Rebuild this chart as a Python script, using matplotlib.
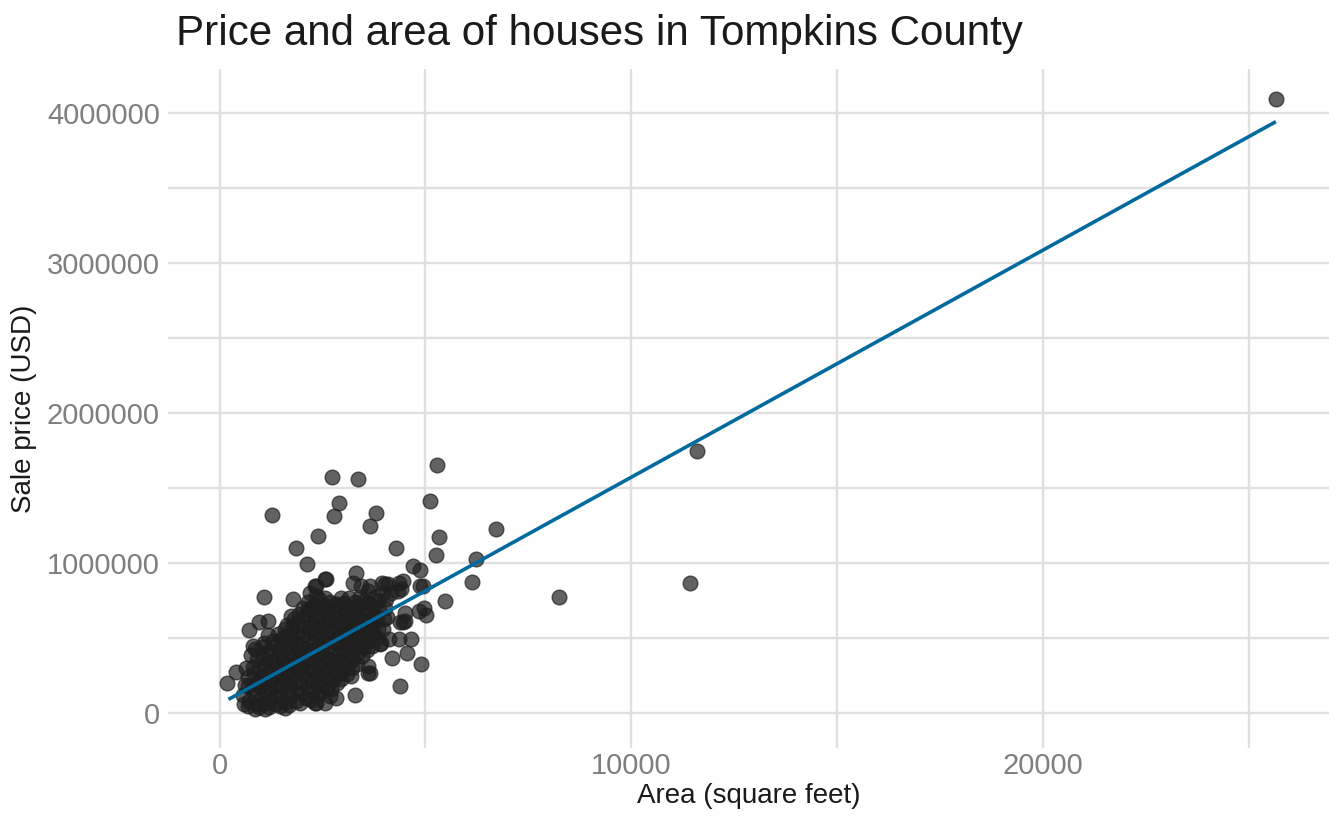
import matplotlib
matplotlib.use("Agg")
import matplotlib.pyplot as plt
from matplotlib.ticker import FixedLocator, FuncFormatter

# ---------------- data ----------------
# dense cluster of houses: (area in sq ft, sale price in thousands USD)
core_points = [
    (560, 120), (600, 60), (620, 190), (650, 300),
    (720, 85), (780, 160), (690, 240), (820, 310), (760, 390), (880, 60),
    (850, 130), (900, 210), (830, 270), (910, 360), (870, 430),
    (960, 45), (1010, 95), (980, 175), (1040, 235), (990, 300), (1060, 370),
    (1020, 440), (1100, 70), (1130, 140), (1080, 205), (1150, 265), (1110, 330),
    (1140, 405), (1090, 470), (1170, 520),
    (1210, 40), (1250, 105), (1230, 170), (1280, 230), (1220, 290), (1300, 350),
    (1260, 415), (1310, 480), (1350, 60), (1380, 125), (1330, 195), (1400, 255),
    (1370, 320), (1420, 385), (1360, 450), (1410, 530),
    (1460, 50), (1490, 110), (1470, 180), (1530, 240), (1500, 305), (1550, 365),
    (1480, 430), (1540, 500), (1590, 560), (1600, 75), (1630, 145), (1580, 210),
    (1650, 275), (1610, 335), (1660, 400), (1620, 465), (1680, 525), (1650, 590),
    (1700, 55), (1740, 120), (1720, 190), (1780, 250), (1750, 315), (1800, 380),
    (1730, 445), (1790, 505), (1760, 570), (1820, 630), (1850, 85), (1880, 150),
    (1840, 215), (1900, 285), (1870, 345), (1920, 410), (1860, 470), (1910, 540),
    (1890, 600), (1940, 660),
    (1960, 70), (2000, 135), (1980, 200), (2040, 265), (2010, 325), (2060, 390),
    (1990, 455), (2050, 520), (2020, 585), (2080, 650), (2030, 705), (2100, 100),
    (2140, 170), (2110, 235), (2160, 300), (2120, 360), (2170, 425), (2130, 490),
    (2180, 555), (2150, 620), (2190, 690), (2140, 745),
    (2220, 90), (2260, 150), (2240, 215), (2290, 280), (2250, 340), (2310, 405),
    (2270, 470), (2320, 530), (2280, 595), (2330, 655), (2300, 720), (2350, 780),
    (2370, 120), (2400, 190), (2380, 250), (2420, 315), (2360, 380), (2410, 445),
    (2390, 510), (2440, 575), (2400, 635), (2450, 700), (2420, 760),
    (2480, 140), (2510, 210), (2490, 270), (2540, 335), (2500, 400), (2550, 465),
    (2520, 525), (2570, 590), (2530, 650), (2580, 715), (2560, 770), (2610, 170),
    (2640, 240), (2620, 300), (2660, 365), (2600, 430), (2650, 495), (2630, 560),
    (2670, 620), (2640, 690), (2680, 745),
    (2720, 160), (2750, 225), (2730, 290), (2780, 350), (2740, 415), (2790, 480),
    (2760, 545), (2800, 605), (2770, 670), (2820, 730), (2850, 200), (2880, 265),
    (2860, 330), (2900, 395), (2870, 460), (2910, 520), (2880, 585), (2920, 650),
    (2890, 710), (2940, 770),
    (2960, 230), (3000, 290), (2980, 355), (3030, 420), (3000, 480), (3050, 545),
    (3010, 610), (3060, 670), (3020, 735), (3100, 260), (3130, 330), (3110, 395),
    (3150, 455), (3120, 520), (3160, 585), (3130, 645), (3170, 710), (3140, 770),
    (3220, 300), (3250, 365), (3230, 430), (3280, 490), (3240, 555), (3290, 615),
    (3260, 680), (3300, 740), (3340, 330), (3370, 400), (3350, 460), (3390, 525),
    (3360, 590), (3400, 650), (3380, 715), (3420, 775),
    (3470, 380), (3500, 440), (3480, 505), (3530, 570), (3490, 630), (3540, 695),
    (3510, 750), (3580, 420), (3610, 480), (3590, 545), (3630, 610), (3600, 670),
    (3640, 735),
    (3710, 450), (3740, 520), (3720, 585), (3770, 650), (3730, 715), (3780, 775),
    (3820, 500), (3850, 560), (3830, 625), (3870, 690), (3840, 750),
    (3960, 560), (3990, 630), (4010, 700), (4050, 760), (4080, 640),
]

# scattered houses around and outside the cluster: (area, price USD)
outlier_area = [
    25660, 11590, 11420, 8238, 6707, 6221, 6141, 5468, 5281, 5103,
    5330, 5249, 4277, 3807, 3661, 3370, 2738, 2900, 2787, 2390,
    1863, 1280, 2122, 1086, 1782, 4698, 4876, 3321, 713, 389,
    178, 810, 956, 1175, 4374, 3289, 4901, 4553, 4180, 4658,
    4374, 5022, 4958, 4844, 4942, 4350, 4010, 3605, 3200, 2835,
    3240, 3645, 4350, 4107, 4496, 3929, 4091, 4415, 3970, 3443,
    3605, 2552, 2309, 1742, 2146, 1500, 688, 688, 1094, 1580,
    2309, 2552, 4496, 3953, 4455, 4334, 4860, 4172, 3645, 2592,
    2349, 2187, 4455, 3888, 3605, 2673, 2349, 851,
]
outlier_price = [
    4093000, 1747000, 867000, 773000, 1227000, 1027000, 875000, 749000, 1653000, 1413000,
    1175000, 1058000, 1100000, 1338000, 1251000, 1565000, 1575000, 1404000, 1313000, 1185000,
    1100000, 1325000, 995000, 778000, 760000, 982000, 953000, 938000, 555000, 275000,
    200000, 449000, 609000, 615000, 182000, 122000, 327000, 405000, 371000, 493000,
    609000, 653000, 704000, 682000, 849000, 870000, 865000, 315000, 249000, 105000,
    871000, 271000, 498000, 493000, 615000, 471000, 860000, 827000, 804000, 849000,
    815000, 893000, 849000, 649000, 693000, 493000, 182000, 49000, 27000, 38000,
    71000, 71000, 671000, 871000, 882000, 815000, 849000, 804000, 849000, 893000,
    849000, 804000, 609000, 460000, 271000, 115000, 71000, 30000,
]

# fitted linear trend (endpoints)
line_area = [218, 25660]
line_price = [93000, 3944000]

x_major = [0, 10000, 20000]
x_minor = [5000, 15000, 25000]
y_major = [0, 1000000, 2000000, 3000000, 4000000]
y_minor = [500000, 1500000, 2500000, 3500000]

title = "Price and area of houses in Tompkins County"
xlabel = "Area (square feet)"
ylabel = "Sale price (USD)"

# ---------------- figure ----------------
plt.rcParams['font.family'] = ['Liberation Sans', 'DejaVu Sans']

W, H = 1344, 830
fig = plt.figure(figsize=(W / 100, H / 100), dpi=100)
left, right, top, bottom = 168.3, 1329.0, 69.3, 748.3
ax = fig.add_axes([left / W, 1 - bottom / H, (right - left) / W, (bottom - top) / H])

area = [p[0] for p in core_points] + outlier_area
price = [p[1] * 1000 for p in core_points] + outlier_price

pt_color = (0.12, 0.12, 0.12, 0.7)
ax.scatter(area, price, s=112, facecolor=pt_color, edgecolor=pt_color,
           linewidths=1.0, zorder=3)
ax.plot(line_area, line_price, color='#006a9e', linewidth=2.6, zorder=4,
        solid_capstyle='butt')

ax.set_xlim(-1244, 26950)
ax.set_ylim(-233000, 4293000)

ax.xaxis.set_major_locator(FixedLocator(x_major))
ax.xaxis.set_minor_locator(FixedLocator(x_minor))
ax.yaxis.set_major_locator(FixedLocator(y_major))
ax.yaxis.set_minor_locator(FixedLocator(y_minor))
fmt = FuncFormatter(lambda v, p: f"{int(round(v))}")
ax.xaxis.set_major_formatter(fmt)
ax.yaxis.set_major_formatter(fmt)

grid_col = '#e0e0e0'
ax.grid(True, which='major', color=grid_col, linewidth=1.7, zorder=0)
ax.grid(True, which='minor', color=grid_col, linewidth=1.7, zorder=0)
ax.set_axisbelow(True)
for s in ax.spines.values():
    s.set_visible(False)
ax.tick_params(which='both', length=0)
ax.tick_params(axis='x', labelsize=21, labelcolor='#7f7f7f', pad=3)
ax.tick_params(axis='y', labelsize=21, labelcolor='#7f7f7f', pad=6)

ax.set_xlabel(xlabel, fontsize=20, color='#1a1a1a', labelpad=2)
ax.set_ylabel(ylabel, fontsize=20, color='#1a1a1a', labelpad=7)

fig.text(176 / W, 1 - 45 / H, title, fontsize=30.3, color='#1a1a1a',
         ha='left', va='baseline')

fig.savefig("out.png", dpi=100, facecolor='white')
